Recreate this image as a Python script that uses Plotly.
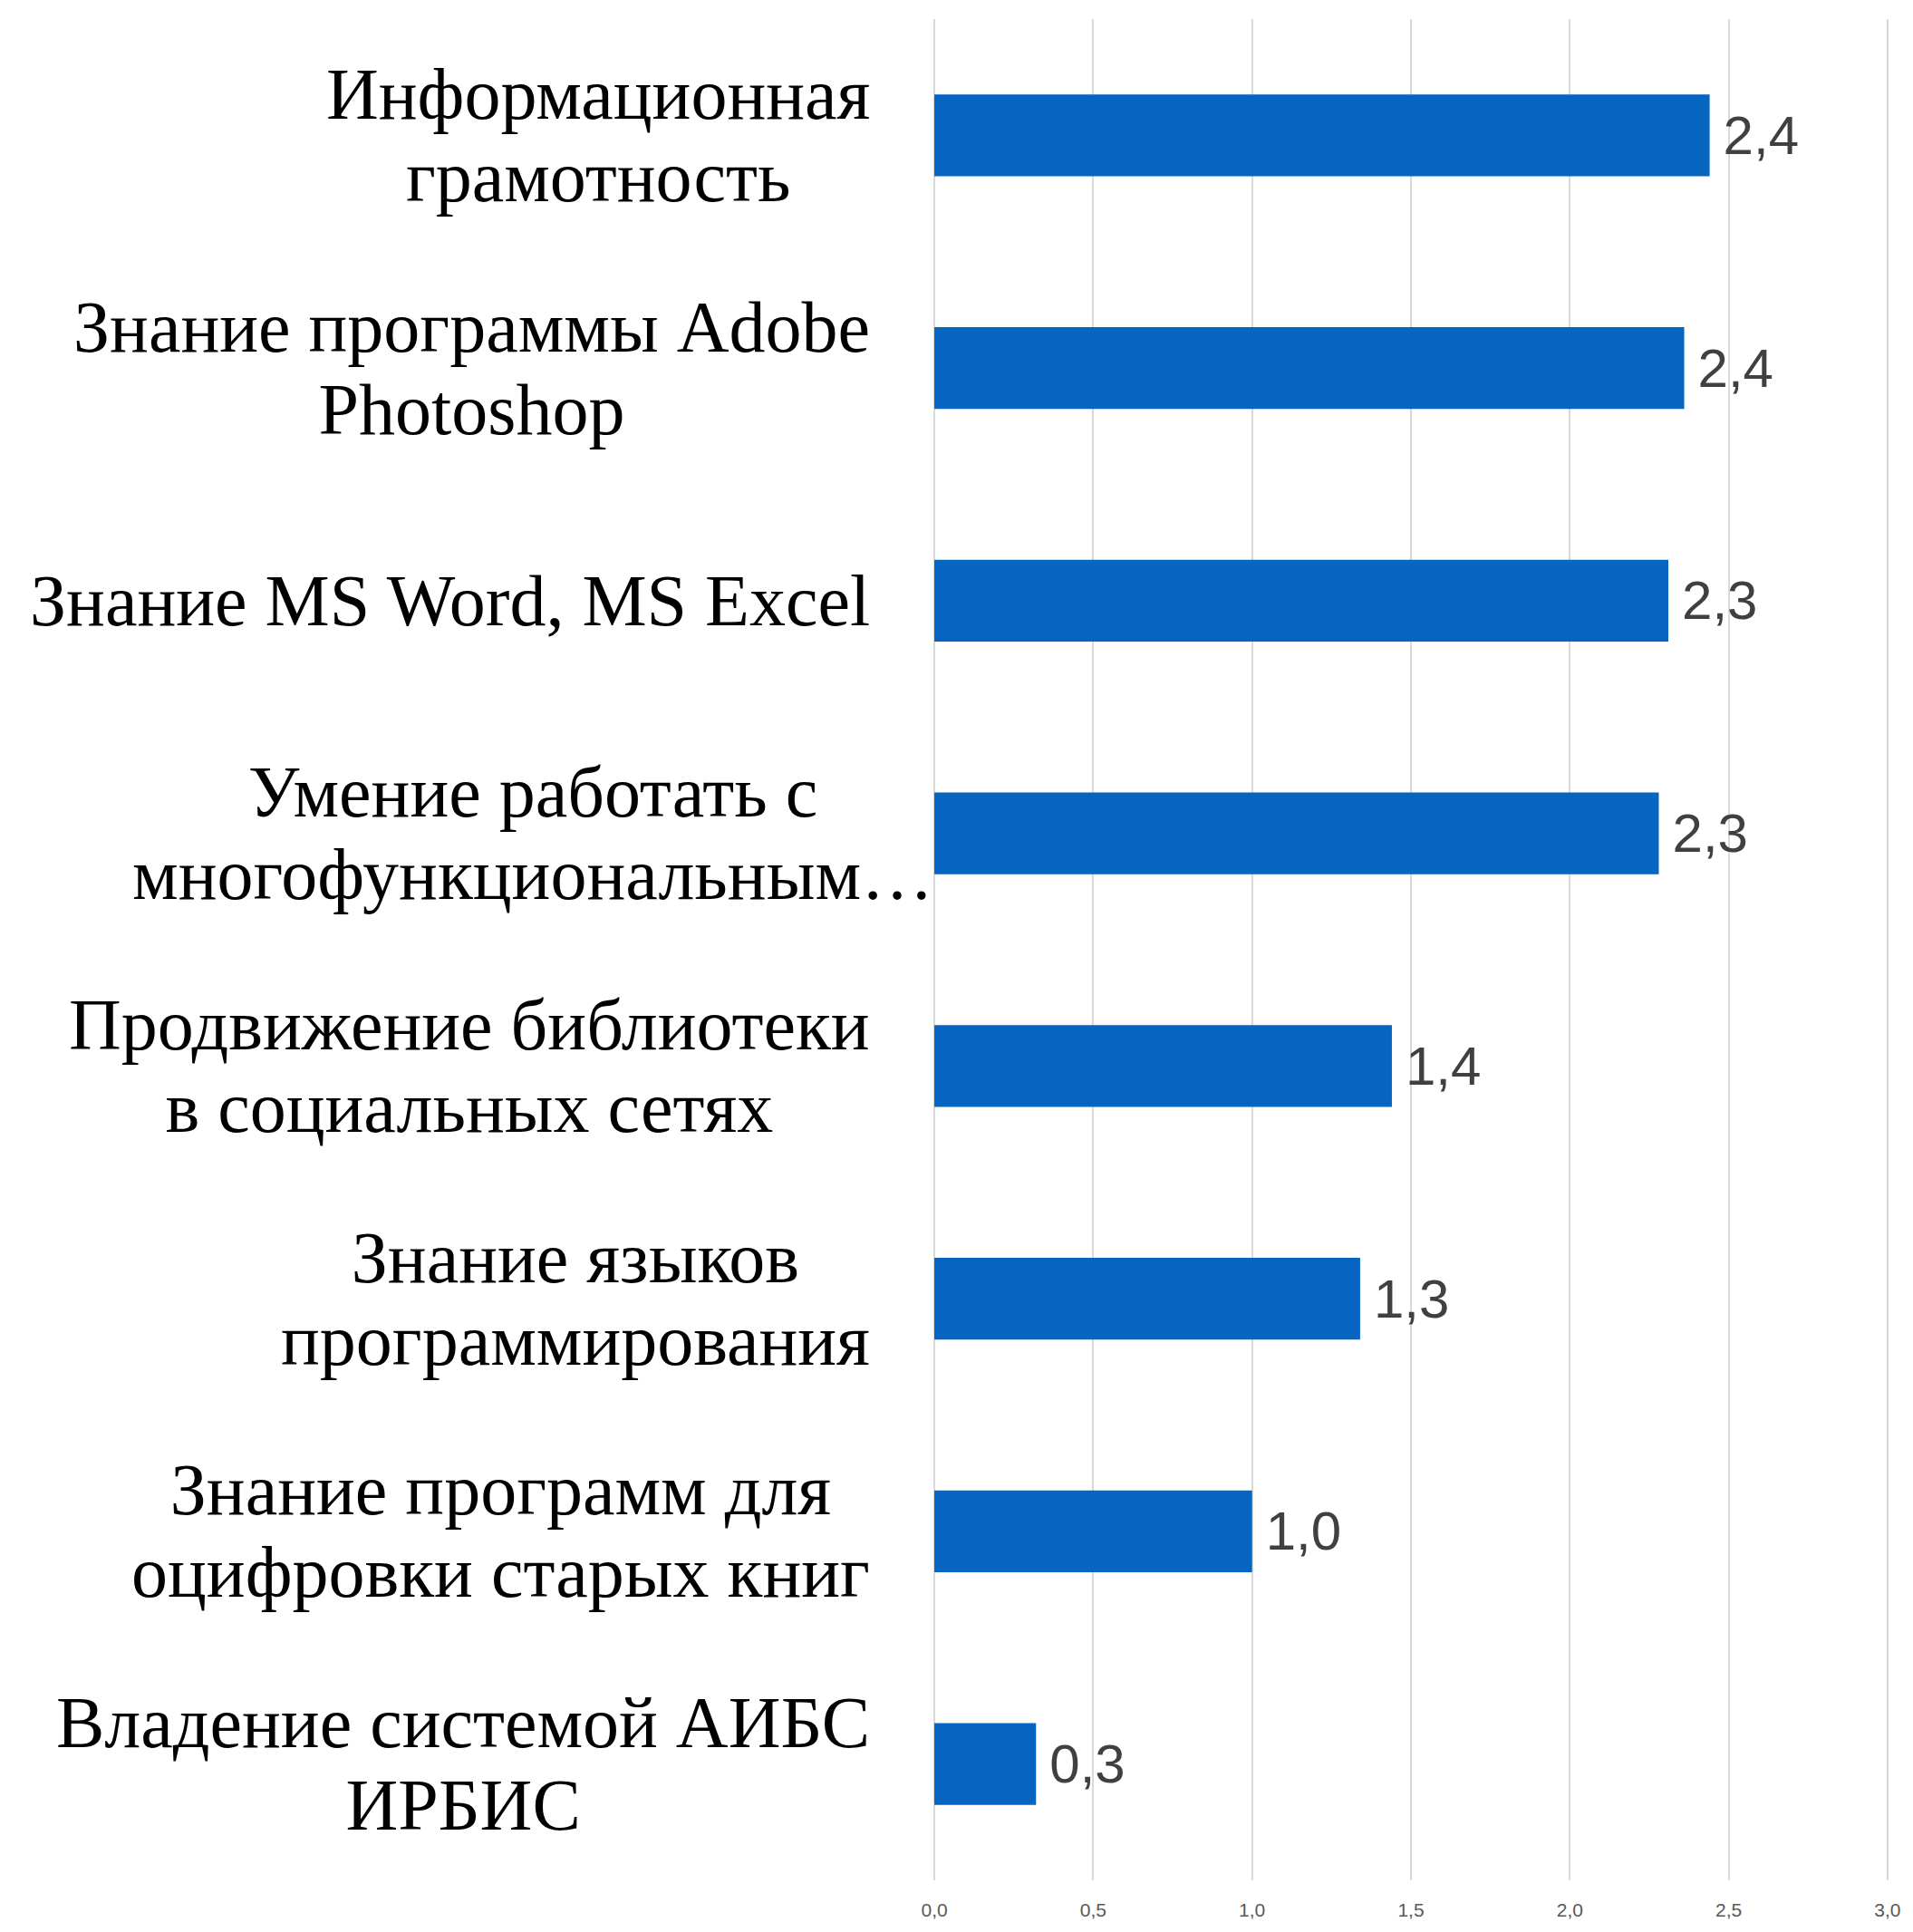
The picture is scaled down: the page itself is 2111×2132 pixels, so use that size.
import plotly.graph_objects as go

categories = [
    ["Информационная", "грамотность"],
    ["Знание программы Adobe", "Photoshop"],
    ["Знание MS Word, MS Excel"],
    ["Умение работать с", "многофункциональным…"],
    ["Продвижение библиотеки", "в социальных сетях"],
    ["Знание языков", "программирования"],
    ["Знание программ для", "оцифровки старых книг"],
    ["Владение системой АИБС", "ИРБИС"],
]
values = [2.44, 2.36, 2.31, 2.28, 1.44, 1.34, 1.00, 0.32]
x_ticks = [0, 0.5, 1.0, 1.5, 2.0, 2.5, 3.0]
x_tick_labels = ["0,0", "0,5", "1,0", "1,5", "2,0", "2,5", "3,0"]

ids = list(range(len(categories)))

fig = go.Figure(
    go.Bar(
        x=values,
        y=ids,
        orientation="h",
        width=0.352,
        marker=dict(color="#0565C0", line=dict(width=0)),
        texttemplate="\u2009%{x:.1f}",
        textposition="outside",
        textfont=dict(family="Liberation Sans", size=60, color="#404040"),
        cliponaxis=False,
        hoverinfo="skip",
    )
)

# category labels: lines centred with each other, block right-aligned left of the axis
for i, lines in enumerate(categories):
    shift = -68
    if lines[-1].endswith("…"):
        shift = 2
    text = "<br>".join('<span style="font-size:80px">%s</span>' % ln for ln in lines)
    fig.add_annotation(
        x=0, xref="paper", y=i, yref="y",
        text=text, showarrow=False,
        xanchor="right", yanchor="middle", align="center",
        xshift=shift,
        font=dict(family="Liberation Serif, Times New Roman, serif", size=70, color="#000000"),
    )

fig.update_layout(
    width=2095,
    height=2116,
    margin=dict(l=1022, r=5, t=13, b=39),
    paper_bgcolor="white",
    plot_bgcolor="white",
    showlegend=False,
    separators=", ",
)
fig.update_xaxes(
    range=[-0.003, 3.003],
    tickvals=x_ticks,
    ticktext=x_tick_labels,
    showgrid=True,
    gridcolor="#D9D9D9",
    gridwidth=2,
    zeroline=False,
    showline=False,
    ticks="",
    ticklabelstandoff=18,
    ticklabeloverflow="allow",
    tickfont=dict(family="Liberation Sans", size=21, color="#595959"),
)
fig.update_yaxes(
    range=[len(categories) - 0.5, -0.5],
    showticklabels=False,
    showgrid=False,
    zeroline=False,
    showline=False,
    ticks="",
)

fig.write_html("out.html")
